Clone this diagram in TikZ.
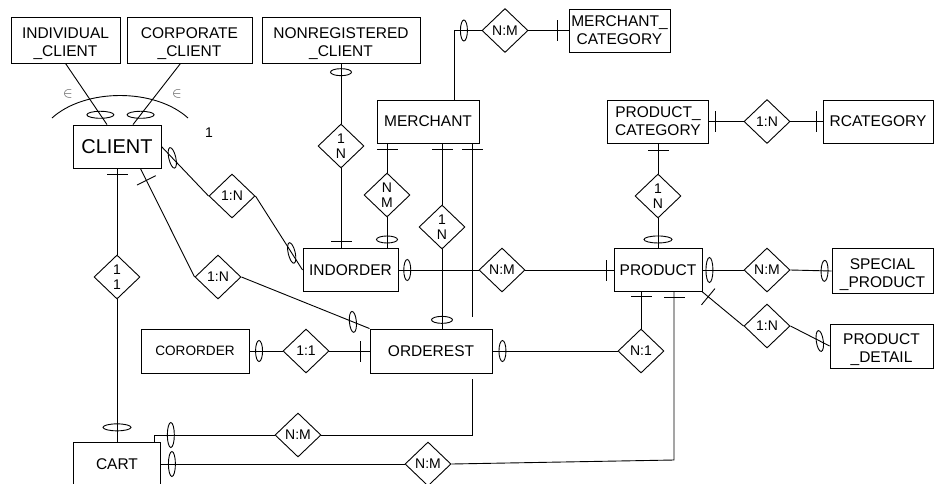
\documentclass[tikz,border=0pt]{standalone}
\usepackage{fontspec}
\setmainfont{Liberation Sans}
\usetikzlibrary{shapes.geometric,calc}
\begin{document}
\begin{tikzpicture}[x=1pt,y=-1pt,line width=0.9pt,
  ent/.style={draw, rectangle, inner sep=0pt, align=center,
    font=\fontsize{15.5}{18}\selectfont},
  % two-line entity whose second line starts with an underscore
  ent2/.style={ent, text height=33pt, text depth=0pt},
  rel/.style={draw, diamond, inner sep=0pt, minimum width=46pt,
    minimum height=44pt, align=center, font=\fontsize{14}{15}\selectfont},
  ring/.style={draw, ellipse, sloped, inner sep=0pt, minimum width=7pt,
    minimum height=21pt},
  tring/.style={draw, ellipse, inner sep=0pt, minimum width=7pt,
    minimum height=21pt, rotate=#1},
  tring/.default=0,
  hring/.style={draw, ellipse, inner sep=0pt, minimum width=27pt,
    minimum height=7pt},
  bar/.style={rectangle, sloped, fill=black, inner sep=0pt,
    minimum width=0.9pt, minimum height=21pt},
  member/.style={inner sep=0pt, text=black!70, font=\fontsize{14}{14}\selectfont},
  lbl/.style={inner sep=0pt, font=\fontsize{14}{15}\selectfont}]

\useasboundingbox (0,0) rectangle (934,483);

% entities
\node[ent2, minimum width=109pt, minimum height=46pt] (ic)  at (65.5,40) {INDIVIDUAL\\\_CLIENT};
\node[ent2, minimum width=125pt, minimum height=46pt] (cc)  at (189.5,40) {CORPORATE\\\_CLIENT};
\node[ent2, minimum width=158pt, minimum height=46pt] (nrc) at (341,40) {NONREGISTERED\\\_CLIENT};
\node[ent, minimum width=101pt, minimum height=43pt] (mcat) at (619.5,30.5) {MERCHANT\_\\CATEGORY};
\node[ent, minimum width=88pt, minimum height=43pt, font=\fontsize{20}{22}\selectfont] (cli) at (117,146.5) {CLIENT};
\node[ent, minimum width=102pt, minimum height=43pt] (mer) at (428,121.5) {MERCHANT};
\node[ent, minimum width=101pt, minimum height=43pt] (pcat) at (658,121.5) {PRODUCT\_\\CATEGORY};
\node[ent, minimum width=110pt, minimum height=43pt] (rcat) at (878,121.5) {RCATEGORY};
\node[ent, minimum width=95pt, minimum height=43pt] (ind) at (350.5,270) {INDORDER};
\node[ent, minimum width=88pt, minimum height=43pt] (prod) at (658,270) {PRODUCT};
\node[ent2, minimum width=101pt, minimum height=45pt] (sprod) at (882.5,271) {SPECIAL\\\_PRODUCT};
\node[ent2, minimum width=103pt, minimum height=44pt] (pdet) at (881.5,346) {PRODUCT\\\_DETAIL};
\node[ent, minimum width=108pt, minimum height=44pt, font=\fontsize{13.6}{16}\selectfont] (coro) at (195,351) {CORORDER};
\node[ent, minimum width=122pt, minimum height=44pt] (ord) at (431,351) {ORDEREST};
\node[ent, minimum width=87pt, minimum height=44pt] (cart) at (117,464) {CART};

% relationships
\node[rel] (rMc)  at (505,30.5) {N:M};
\node[rel] (rPc)  at (767,121.5) {1:N};
\node[rel] (rNr)  at (341,146) {1\\N};
\node[rel] (rCi)  at (232,196) {1:N};
\node[rel] (rMi)  at (387,195) {N\\M};
\node[rel] (rMo)  at (442,227) {1\\N};
\node[rel] (rPp)  at (658,196) {1\\N};
\node[rel] (rCc)  at (117,277) {1\\1};
\node[rel] (rCo)  at (218,277) {1:N};
\node[rel] (rIp)  at (502,270) {N:M};
\node[rel] (rSp)  at (767,270) {N:M};
\node[rel] (rPd)  at (767,326) {1:N};
\node[rel] (rOo)  at (306,351) {1:1};
\node[rel] (rOp)  at (641,351) {N:1};
\node[rel] (rCaO) at (298,435) {N:M};
\node[rel] (rCaP) at (428,464) {N:M};

% specialisation of CLIENT
\draw (ic.south) -- node[pos=.84, hring]{} ($(cli.north)+(-10,0)$);
\draw ($(cc.south)+(-9,0)$) -- node[pos=.84, hring]{} ($(cli.north)+(16,0)$);
\draw (52,118) .. controls (85,88) and (155,88) .. (188,118);
\node[member] (in1) at (68,94) {$\in$};
\node[member] (in2) at (177,94) {$\in$};
\node[lbl] (one) at (209,133) {1};

% nonregistered client - indorder
\draw (nrc.south) -- node[pos=.145, ring]{} (rNr.north);
\draw (rNr.south) -- node[pos=.915, bar]{} (rNr.south |- ind.north);

% merchant - indorder
\draw (rMi.north |- mer.south) -- node[pos=.2, bar]{} (rMi.north);
\draw (rMi.south) -- node[pos=.72, ring]{} (rMi.south |- ind.north);

% merchant - orderest
\draw (rMo.north |- mer.south) -- node[pos=.095, bar]{} (rMo.north);
\draw (rMo.south) -- node[pos=.89, ring]{} (rMo.south |- ord.north);

% merchant line towards orderest
\coordinate (mEnd) at (472,317);
\draw (mEnd |- mer.south) -- node[pos=.034, bar]{} (mEnd);

% merchant - merchant category
\draw ($(mer.north)+(26,0)$) |- node[pos=.68, ring]{} (rMc.west);
\draw (rMc.east) -- node[pos=.73, bar]{} (mcat.west);

% client - indorder
\draw (cli.east) -- node[pos=.23, tring=13]{} (rCi.west);
\draw (rCi.east) -- node[pos=.77, tring=13]{} (ind.west);

% client - cart
\draw (cli.south) -- node[pos=.07, bar]{} (rCc.north);
\draw (rCc.south) -- node[pos=.9, ring, minimum height=28pt]{} (cart.north);

% client - orderest
\draw ($(cli.south east)+(-21,0)$) -- node[pos=.11, bar]{} (rCo.west);
\draw (rCo.east) -- node[pos=.87, tring=5]{} (ord.north west);

% indorder - product
\draw (ind.east) -- node[pos=.11, ring]{} (rIp.west);
\draw (rIp.east) -- node[pos=.92, bar]{} (prod.west);

% cororder - orderest
\draw (coro.east) -- node[pos=.29, ring]{} (rOo.west);
\draw (rOo.east) -- node[pos=.78, bar]{} (ord.west);

% orderest - product
\draw (ord.east) -- node[pos=.08, ring]{} (rOp.west);
\draw (rOp.north |- prod.south) -- node[pos=.13, bar]{} (rOp.north);

% product category
\draw (pcat.south) -- node[pos=.23, bar]{} (rPp.north);
\draw (rPp.south) -- node[pos=.71, ring, minimum height=28pt]{} (prod.north);
\draw (pcat.east) -- node[pos=.2, bar]{} (rPc.west);
\draw (rPc.east) -- node[pos=.81, bar]{} (rcat.west);

% product - special product
\draw (prod.east) -- node[pos=.17, ring, minimum height=25pt]{} (rSp.west);
\draw (rSp.east) -- node[pos=.83, ring]{} (sprod.west);

% product - product detail
\draw (prod.south east) -- node[pos=.14, bar]{} (rPd.west);
\draw (rPd.east) -- node[pos=.75, tring=8]{} (pdet.west);

% cart - orderest
\coordinate (oEnd) at (472,379);
\draw ($(cart.north east)+(-7,0)$) |- node[pos=.57, ring, minimum height=25pt]{} (rCaO.west);
\draw (rCaO.east) -| (oEnd);

% cart - product
\coordinate (pTurn) at (674,460);
\draw (cart.east) -- node[pos=.045, ring, minimum height=25pt]{} (rCaP.west);
\draw (rCaP.east) -- (pTurn) -- node[pos=.97, bar]{} (pTurn |- prod.south);

\end{tikzpicture}
\end{document}
